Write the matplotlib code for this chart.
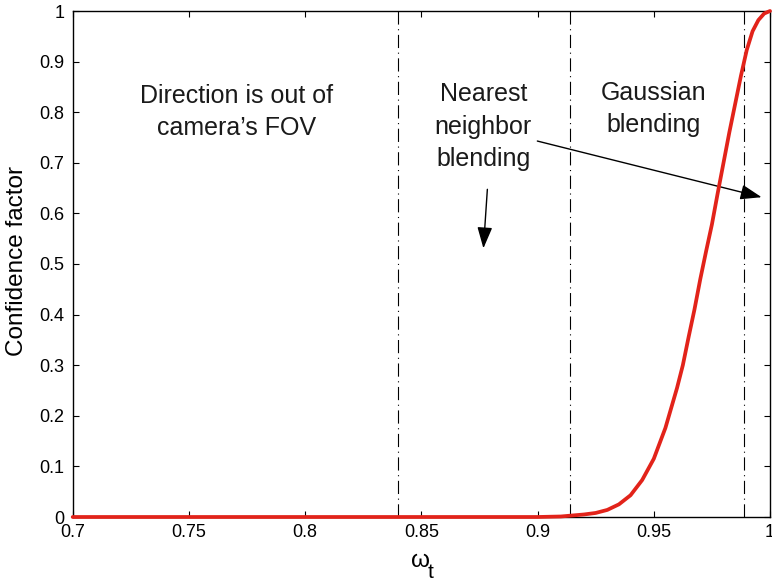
import matplotlib
matplotlib.use("Agg")
import matplotlib.pyplot as plt

plt.rcParams['font.family'] = ['Liberation Sans', 'DejaVu Sans']
plt.rcParams['lines.scale_dashes'] = False

# Data
omega = [0.70, 0.80, 0.90, 0.905, 0.910, 0.915, 0.920, 0.925, 0.930, 0.935,
         0.940, 0.945, 0.950, 0.955, 0.960, 0.9625, 0.965, 0.9675, 0.970,
         0.9725, 0.975, 0.9775, 0.980, 0.9825, 0.985, 0.9875, 0.990, 0.9925,
         0.995, 0.9975, 1.000]
confidence = [0.0, 0.0, 0.0, 0.0005, 0.001, 0.003, 0.005, 0.008, 0.014, 0.025,
              0.043, 0.073, 0.115, 0.176, 0.255, 0.300, 0.356, 0.410, 0.470,
              0.525, 0.578, 0.640, 0.700, 0.760, 0.816, 0.872, 0.923, 0.960,
              0.982, 0.995, 1.0]
boundaries = [0.84, 0.914, 0.989]
xticks = [0.7, 0.75, 0.8, 0.85, 0.9, 0.95, 1.0]
xticklabels = ['0.7', '0.75', '0.8', '0.85', '0.9', '0.95', '1']
yticks = [0, 0.1, 0.2, 0.3, 0.4, 0.5, 0.6, 0.7, 0.8, 0.9, 1.0]
yticklabels = ['0', '0.1', '0.2', '0.3', '0.4', '0.5', '0.6', '0.7', '0.8', '0.9', '1']

region_texts = ["Direction is out of\ncamera\u2019s FOV", "Nearest\nneighbor\nblending",
                "Gaussian\nblending"]
region_pos = [(0.7703, 0.800), (0.8767, 0.771), (0.9497, 0.806)]

W, H = 772, 582
fig = plt.figure(figsize=(W / 100, H / 100), dpi=100)
ax = fig.add_axes([72.7 / W, 1 - 517 / H, (770 - 72.7) / W, (517 - 11) / H])

for b in boundaries:
    ax.axvline(b, color='black', lw=0.8, dashes=(9.5, 3.3, 0.8, 3.3))

ax.plot(omega, confidence, color='#e2231a', lw=2.7, clip_on=False, zorder=5,
        solid_capstyle='round', solid_joinstyle='round')

ax.set_xlim(0.7, 1.0)
ax.set_ylim(0, 1)
ax.set_xticks(xticks)
ax.set_xticklabels(xticklabels)
ax.set_yticks(yticks)
ax.set_yticklabels(yticklabels)
ax.tick_params(direction='in', length=4, width=0.8, top=True, right=True,
               labelsize=13, colors='black')
ax.tick_params(axis='y', pad=6)
ax.tick_params(axis='x', pad=5)
for s in ax.spines.values():
    s.set_linewidth(1.0)
    s.set_zorder(4)

for t, (x, y) in zip(region_texts, region_pos):
    ax.text(x, y, t, ha='center', va='center', fontsize=18, color='#1a1a1a',
            linespacing=1.45)

arrow_kw = dict(arrowstyle='-|>,head_length=0.65,head_width=0.23', color='black',
                lw=1.0, shrinkA=0, shrinkB=0, mutation_scale=20)
ax.annotate('', xy=(0.8767, 0.531), xytext=(0.8784, 0.6476), arrowprops=arrow_kw)
ax.annotate('', xy=(0.9964, 0.632), xytext=(0.8999, 0.743), arrowprops=arrow_kw,
            annotation_clip=False)

fig.text(17 / W, 1 - 261 / H, 'Confidence factor', rotation=90, ha='center',
         va='center', fontsize=17.5)
fig.text(411 / W, 1 - 567 / H, '\u03c9', ha='left', va='baseline', fontsize=17.5)
fig.text(428 / W, 1 - 578 / H, 't', ha='left', va='baseline', fontsize=15)

fig.savefig('out.png', dpi=100)
